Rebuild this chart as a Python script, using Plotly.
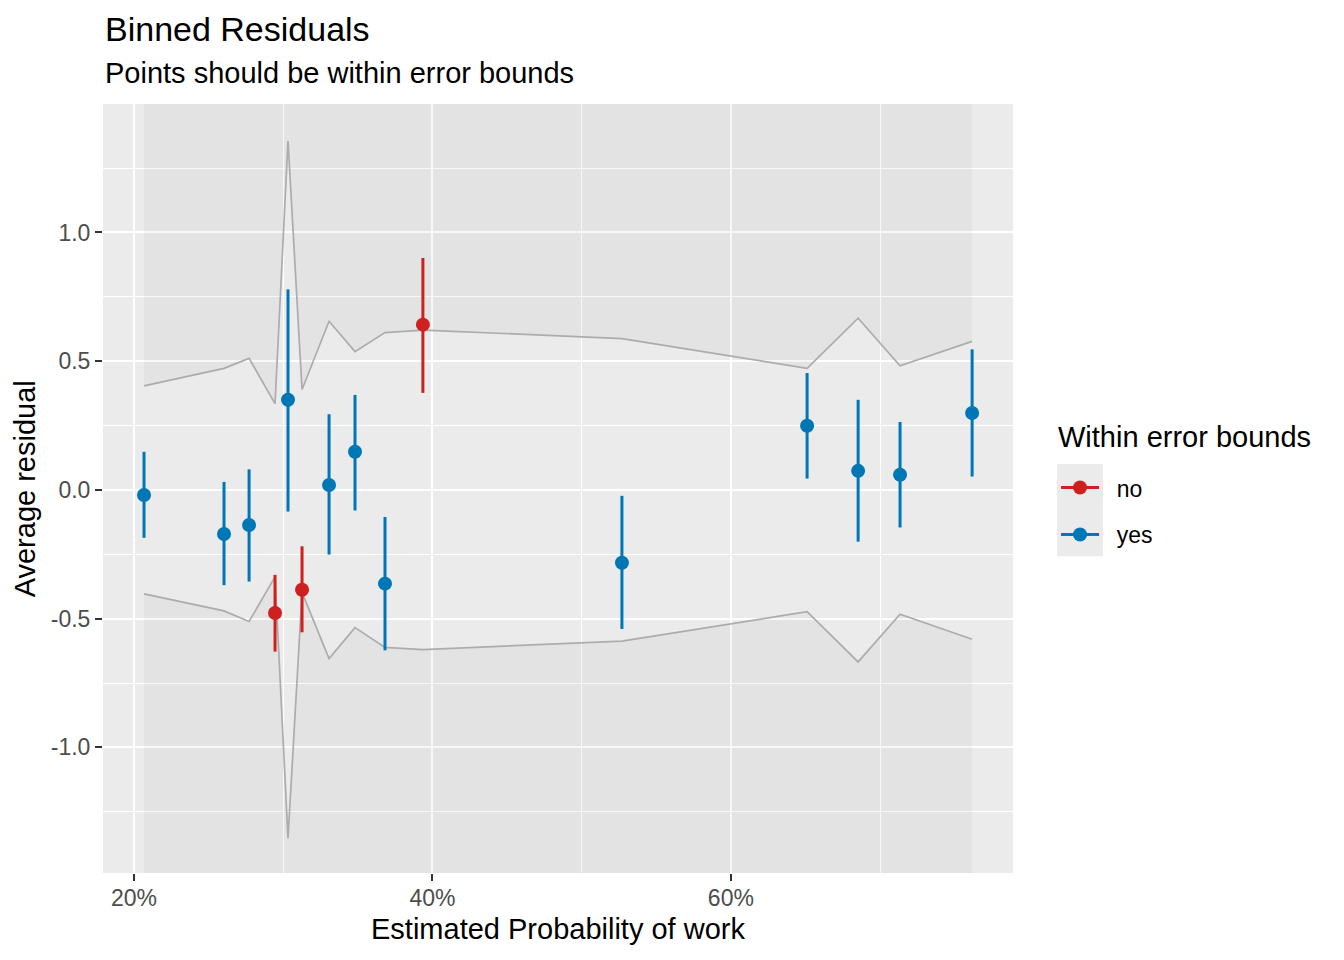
import plotly.graph_objects as go

# binned residuals
est_prob = [0.2067, 0.2603, 0.2771, 0.2945, 0.3032, 0.3126, 0.3307, 0.3481,
            0.3682, 0.3936, 0.5270, 0.6511, 0.6853, 0.7134, 0.7617]
avg_resid = [-0.020, -0.171, -0.136, -0.478, 0.350, -0.388, 0.019, 0.148,
             -0.364, 0.642, -0.283, 0.249, 0.074, 0.059, 0.299]
ci_low = [-0.186, -0.370, -0.356, -0.628, -0.084, -0.553, -0.251, -0.080,
          -0.623, 0.377, -0.540, 0.044, -0.201, -0.146, 0.052]
ci_high = [0.148, 0.031, 0.080, -0.330, 0.779, -0.219, 0.294, 0.369,
           -0.105, 0.901, -0.023, 0.454, 0.350, 0.264, 0.546]
bound_upper = [0.404, 0.472, 0.511, 0.335, 1.355, 0.390, 0.655, 0.537,
               0.611, 0.621, 0.588, 0.472, 0.667, 0.482, 0.577]
bound_lower = [-0.404, -0.470, -0.511, -0.338, -1.353, -0.398, -0.655, -0.535,
               -0.612, -0.620, -0.587, -0.473, -0.668, -0.483, -0.580]
within = ["yes", "yes", "yes", "no", "yes", "no", "yes", "yes",
          "yes", "no", "yes", "yes", "yes", "yes", "yes"]

groups = ["no", "yes"]
group_colors = {"no": "#cd201f", "yes": "#0077b5"}

x_ticks = [0.2, 0.4, 0.6]
x_ticktext = ["20%", "40%", "60%"]
x_minor = [0.3, 0.5, 0.7]
y_ticks = [-1.0, -0.5, 0.0, 0.5, 1.0]
y_ticktext = ["-1.0", "-0.5", "0.0", "0.5", "1.0"]
y_minor = [-1.25, -0.75, -0.25, 0.25, 0.75, 1.25]

X_RANGE = [0.1792, 0.7891]
Y_RANGE = [-1.488, 1.499]

FONT = "Liberation Sans, Arial, sans-serif"
SHADE = "rgba(0,0,0,0.03)"
BOUND_COL = "#acacac"
PAD = "\u00a0\u00a0"  # push legend labels away from the key, like ggplot

fig = go.Figure()

# shaded area outside the error bounds (to the panel edges)
n = len(est_prob)
fig.add_trace(go.Scatter(x=est_prob, y=[Y_RANGE[1]] * n, mode="lines",
                         line=dict(width=0), showlegend=False, hoverinfo="skip"))
fig.add_trace(go.Scatter(x=est_prob, y=bound_upper, mode="lines", fill="tonexty",
                         fillcolor=SHADE, line=dict(color=BOUND_COL, width=1.7),
                         showlegend=False, hoverinfo="skip"))
fig.add_trace(go.Scatter(x=est_prob, y=[Y_RANGE[0]] * n, mode="lines",
                         line=dict(width=0), showlegend=False, hoverinfo="skip"))
fig.add_trace(go.Scatter(x=est_prob, y=bound_lower, mode="lines", fill="tonexty",
                         fillcolor=SHADE, line=dict(color=BOUND_COL, width=1.7),
                         showlegend=False, hoverinfo="skip"))

# error bars, one segment per bin
for g in groups:
    ex, ey = [], []
    for xi, lo, hi, w in zip(est_prob, ci_low, ci_high, within):
        if w == g:
            ex += [xi, xi, None]
            ey += [lo, hi, None]
    fig.add_trace(go.Scatter(x=ex, y=ey, mode="lines",
                             line=dict(color=group_colors[g], width=3),
                             showlegend=False, hoverinfo="skip", legendgroup=g))

# points (None between points so no connecting line, but legend shows line+dot)
for g in groups:
    px, py = [], []
    for xi, yi, w in zip(est_prob, avg_resid, within):
        if w == g:
            px += [xi, None]
            py += [yi, None]
    fig.add_trace(go.Scatter(x=px, y=py, mode="lines+markers", name=PAD + g,
                             legendgroup=g,
                             line=dict(color=group_colors[g], width=3),
                             marker=dict(color=group_colors[g], size=14)))

axis_common = dict(
    showgrid=True, gridcolor="white", gridwidth=2, zeroline=False,
    showline=False, ticks="outside", ticklen=7, tickwidth=2, tickcolor="#333333",
    tickfont=dict(family=FONT, size=23, color="#4d4d4d"), automargin=False,
)

# the page body adds an 8px margin, so the figure is shrunk and margins offset
fig.update_layout(
    width=1328, height=944,
    template="none",
    paper_bgcolor="white", plot_bgcolor="#ebebeb",
    margin=dict(l=95, r=323, t=96, b=79, autoexpand=False),
    xaxis=dict(range=X_RANGE, tickmode="array", tickvals=x_ticks, ticktext=x_ticktext,
               minor=dict(tickmode="array", tickvals=x_minor, showgrid=True,
                          gridcolor="white", gridwidth=1, ticks=""),
               ticklabelstandoff=-3, **axis_common),
    yaxis=dict(range=Y_RANGE, tickmode="array", tickvals=y_ticks, ticktext=y_ticktext,
               minor=dict(tickmode="array", tickvals=y_minor, showgrid=True,
                          gridcolor="white", gridwidth=1, ticks=""),
               **axis_common),
    showlegend=True,
    legend=dict(x=1.0473, y=0.5291, xanchor="left", yanchor="top",
                bgcolor="rgba(0,0,0,0)", borderwidth=0,
                font=dict(family=FONT, size=23, color="black"),
                itemwidth=38, tracegroupgap=14, traceorder="grouped"),
    font=dict(family=FONT),
    shapes=[
        dict(type="line", xref="paper", yref="y", x0=0, x1=1, y0=0, y1=0,
             line=dict(color="#c4c4c4", width=1.5), layer="between"),
        dict(type="rect", xref="paper", yref="paper", x0=1.0484, x1=1.0989,
             y0=0.412, y1=0.5317, fillcolor="#ebebeb", line=dict(width=0),
             layer="below"),
    ],
    annotations=[
        dict(text="Binned Residuals", xref="paper", yref="paper", x=0, y=1.0974,
             xanchor="left", yanchor="middle", showarrow=False,
             font=dict(family=FONT, size=34, color="black")),
        dict(text="Points should be within error bounds", xref="paper", yref="paper",
             x=0, y=1.0401, xanchor="left", yanchor="middle", showarrow=False,
             font=dict(family=FONT, size=29, color="black")),
        dict(text="Estimated Probability of work", xref="paper", yref="paper",
             x=0.5, y=-0.0731, xanchor="center", yanchor="middle", showarrow=False,
             font=dict(family=FONT, size=29, color="black")),
        dict(text="Average residual", xref="paper", yref="paper", x=-0.0859, y=0.5,
             xanchor="center", yanchor="middle", textangle=-90, showarrow=False,
             font=dict(family=FONT, size=29, color="black")),
        dict(text="Within error bounds", xref="paper", yref="paper", x=1.0473,
             y=0.5675, xanchor="left", yanchor="middle", showarrow=False,
             font=dict(family=FONT, size=29, color="black")),
    ],
)

fig.write_html("out.html")
